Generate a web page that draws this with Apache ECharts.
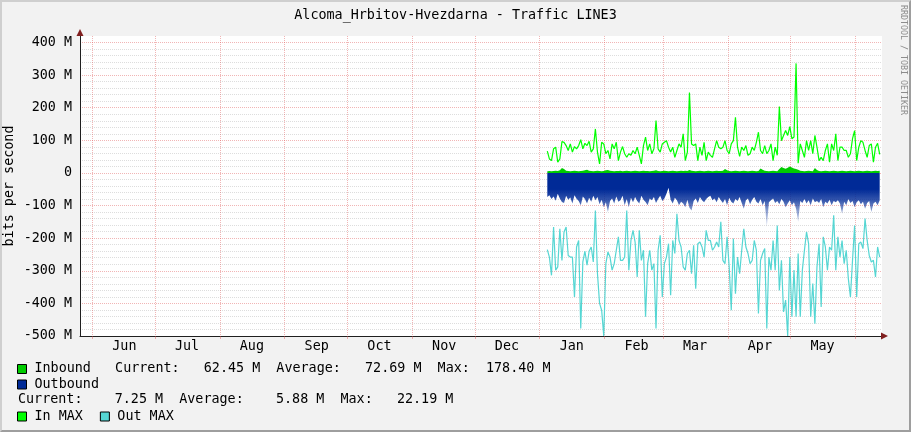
<!DOCTYPE html>
<html><head><meta charset="utf-8">
<script src="https://cdn.jsdelivr.net/npm/echarts@6/dist/echarts.min.js"></script>
<style>
html,body{margin:0;padding:0;background:#F2F2F2;}
#chart{position:absolute;left:0;top:0;width:911px;height:432px;}
#frame{position:absolute;left:0;top:0;width:911px;height:432px;box-sizing:border-box;border-top:2px solid #CFCFCF;border-left:2px solid #CFCFCF;border-right:2px solid #9E9E9E;border-bottom:2px solid #9E9E9E;pointer-events:none;}
</style></head><body>
<div id="chart"></div><div id="frame"></div>
<script>
const DAY = 86400000;
const startDate = Date.UTC(2017, 0, 4, 16);
const axisStart = Date.UTC(2016, 4, 26, 3);
const axisEnd = Date.UTC(2017, 5, 13, 18, 30);
const monthLabels = ['Jan','Feb','Mar','Apr','May','Jun','Jul','Aug','Sep','Oct','Nov','Dec'];

// values in M (bits per second / 1e6), one per day from startDate
const inbound = [5,6,5,6,7,6,8,15,12,7,
 6,5,6,7,6,5,6,7,8,10,
 7,6,5,6,7,6,5,6,8,9,
 7,6,5,6,6,7,5,6,7,6,
 5,6,7,6,5,6,7,6,6,5,
 6,7,8,6,5,6,7,6,5,6,
 7,6,5,6,7,6,7,6,9,7,
 6,5,6,7,6,5,6,7,6,5,
 6,7,6,6,7,12,8,6,5,6,
 7,6,5,6,7,6,5,6,7,6,
 5,6,14,10,7,6,5,6,7,6,
 5,12,18,15,13,16,20,17,14,12,
 10,7,6,5,6,7,6,5,15,9,
 6,5,6,7,6,5,6,7,6,5,
 6,7,6,5,6,7,6,5,6,7,
 6,5,6,7,6,5,6,7,6,7];

const outbound = [-74,-68,-80,-72,-85,-64,-78,-89,-92,-70,
 -82,-75,-94,-68,-79,-86,-99,-72,-80,-94,
 -76,-88,-70,-84,-74,-96,-82,-105,-90,-120,
 -86,-78,-94,-72,-88,-84,-70,-99,-80,-105,
 -76,-90,-74,-86,-94,-70,-82,-89,-99,-78,
 -84,-74,-92,-80,-70,-86,-78,-64,-45,-82,
 -94,-76,-84,-99,-88,-94,-105,-82,-107,-115,
 -86,-78,-92,-74,-84,-90,-80,-74,-70,-84,
 -78,-90,-74,-84,-92,-80,-99,-76,-88,-94,
 -80,-86,-74,-92,-110,-84,-78,-96,-82,-74,
 -88,-94,-80,-99,-86,-166,-90,-84,-78,-92,
 -86,-96,-80,-88,-105,-94,-84,-99,-90,-110,
 -150,-86,-92,-80,-94,-84,-99,-78,-90,-86,
 -92,-80,-105,-88,-94,-82,-99,-86,-90,-84,
 -94,-125,-88,-99,-80,-92,-86,-105,-90,-84,
 -96,-88,-110,-92,-86,-120,-94,-88,-99,-84];

const inMax = [67,43,38,74,79,33,43,96,94,84,
 69,89,64,81,74,84,102,74,91,84,
 97,64,74,135,64,28,94,89,59,69,
 43,89,74,94,38,64,81,59,48,59,
 54,69,59,79,54,28,84,110,69,89,
 59,74,161,74,64,89,94,99,79,64,
 79,48,69,89,79,120,38,64,247,89,
 84,89,38,79,54,94,38,64,54,48,
 74,99,79,74,79,99,69,59,89,99,
 171,79,51,79,69,84,54,59,79,69,
 94,125,69,59,84,59,69,89,38,79,
 54,204,99,115,130,115,142,105,110,336,
 30,89,69,48,99,69,99,59,115,79,
 38,48,38,69,89,33,89,69,120,38,
 79,79,69,69,48,59,105,130,38,79,
 99,94,69,48,84,89,33,79,91,57];

const outMax = [-235,-258,-314,-166,-298,-288,-171,-268,-181,-166,
 -253,-258,-258,-380,-227,-207,-477,-273,-240,-283,
 -240,-227,-273,-115,-309,-400,-421,-500,-278,-242,
 -258,-298,-278,-237,-196,-268,-268,-258,-115,-298,
 -207,-176,-212,-319,-176,-268,-237,-441,-278,-237,
 -298,-278,-477,-237,-191,-380,-278,-258,-217,-375,
 -207,-247,-125,-207,-227,-288,-298,-247,-237,-309,
 -222,-355,-217,-212,-227,-258,-176,-207,-207,-237,
 -227,-212,-227,-150,-268,-278,-196,-288,-421,-201,
 -370,-258,-309,-237,-171,-227,-247,-278,-268,-207,
 -237,-431,-268,-247,-232,-477,-258,-298,-207,-298,
 -161,-360,-268,-426,-390,-500,-258,-441,-298,-441,
 -247,-441,-298,-237,-181,-217,-441,-339,-462,-288,
 -217,-411,-196,-227,-298,-227,-237,-130,-298,-196,
 -258,-207,-278,-237,-324,-380,-268,-161,-380,-217,
 -212,-232,-140,-207,-253,-273,-268,-319,-227,-258];

const inboundStats = [62.45, 72.69, 178.40];   // current, average, max
const outboundStats = [7.25, 5.88, 22.19];

const FONT = 'DejaVu Sans Mono';
const FS = 13.4;
const gridColor = 'rgba(143,143,143,0.3)';
const majorColor = 'rgba(222,79,79,0.42)';

function fmtNum(v) { return v.toFixed(2).padStart(8, ' '); }
function statLine(s) {
  return 'Current:' + fmtNum(s[0]) + ' M  Average:' + fmtNum(s[1]) + ' M  Max:' + fmtNum(s[2]) + ' M';
}
function toSeries(arr) { return arr.map((v, i) => [startDate + i * DAY, v]); }
function monthFmt(v) {
  const d = new Date(v);
  if (d.getUTCDate() === 1 && d.getUTCHours() === 0 && d.getUTCMinutes() === 0 && v < axisEnd - 20 * DAY) {
    return monthLabels[d.getUTCMonth()];
  }
  return '';
}
function yFmt(v) {
  const r = Math.round(v);
  if (r % 100 !== 0) return '';
  return r === 0 ? '0' : r + ' M';
}

const legendBase = {
  left: 17, padding: 0, itemWidth: 9, itemHeight: 9, icon: 'rect', selectedMode: false,
  itemStyle: { borderColor: '#000', borderWidth: 1 },
  textStyle: { fontFamily: FONT, fontSize: FS, color: '#000', lineHeight: 16, padding: [0, 0, 0, 3] }
};

const chart = echarts.init(document.getElementById('chart'), null, { renderer: 'canvas', width: 911, height: 432 });
chart.setOption({
  animation: false,
  useUTC: true,
  backgroundColor: 'transparent',
  textStyle: { fontFamily: FONT },
  title: {
    text: 'Alcoma_Hrbitov-Hvezdarna - Traffic LINE3', left: 'center', top: 9, padding: 0,
    textStyle: { fontFamily: FONT, fontSize: FS, fontWeight: 'normal', color: '#000' }
  },
  grid: { left: 80, right: 29, top: 36, bottom: 96, show: true, backgroundColor: '#ffffff', borderWidth: 0, outerBoundsMode: 'none', containLabel: false },
  xAxis: [{
    type: 'time', min: axisStart, max: axisEnd, splitNumber: 13,
    axisLine: { show: true, onZero: false, lineStyle: { color: '#1F1F1F', width: 1 } },
    axisTick: { show: true, length: 3, lineStyle: { color: majorColor } },
    splitLine: { show: true, showMinLine: false, showMaxLine: false, lineStyle: { color: majorColor, type: [1, 1], width: 1 } },
    axisLabel: { formatter: monthFmt, margin: 4, color: '#000', fontFamily: FONT, fontSize: FS, align: 'left', padding: [0, 0, 0, 20], hideOverlap: false, showMinLabel: false, showMaxLabel: false }
  }, {
    type: 'time', min: axisStart, max: axisEnd, position: 'bottom',
    axisLine: { show: true, onZero: false, symbol: ['none', 'triangle'], symbolSize: [7, 7], symbolOffset: [0, 2.5], lineStyle: { color: '#801F1F', width: 0 } },
    axisTick: { show: false }, axisLabel: { show: false }, splitLine: { show: false }
  }],
  yAxis: [{
    type: 'value', min: -500, max: 420, interval: 20,
    name: 'bits per second', nameLocation: 'middle', nameRotate: 90, nameGap: 64, nameMoveOverlap: false,
    nameTextStyle: { fontFamily: FONT, fontSize: FS, color: '#000' },
    axisLine: { show: true, onZero: false, lineStyle: { color: '#1F1F1F', width: 1 } },
    axisTick: { show: false },
    axisLabel: { formatter: yFmt, margin: 8, color: '#000', fontFamily: FONT, fontSize: FS, showMaxLabel: false },
    splitLine: { show: true, showMinLine: true, showMaxLine: false, lineStyle: { color: [majorColor, gridColor, gridColor, gridColor, gridColor], type: [1, 1], width: 1 } }
  }, {
    type: 'value', min: -500, max: 420, position: 'left', offset: 0,
    axisLine: { show: true, onZero: false, symbol: ['none', 'triangle'], symbolSize: [7, 7], symbolOffset: [0, 3.5], lineStyle: { color: '#801F1F', width: 0 } },
    axisTick: { show: false }, axisLabel: { show: false }, splitLine: { show: false }
  }],
  legend: [
    Object.assign({}, legendBase, { data: ['Inbound'], top: 361, formatter: n => n + '   ' + statLine(inboundStats) }),
    Object.assign({}, legendBase, { data: ['Outbound'], top: 376.5 }),
    Object.assign({}, legendBase, { data: ['In MAX', 'Out MAX'], top: 408.5, itemGap: 17 })
  ],
  graphic: [
    { type: 'text', left: 18, top: 392, style: { text: statLine(outboundStats), font: FS + 'px "DejaVu Sans Mono"', fill: '#000', lineHeight: 16 } },
    { type: 'text', x: 903, y: 5, rotation: -Math.PI / 2, style: { text: 'RRDTOOL / TOBI OETIKER', font: '8.3px "DejaVu Sans Mono"', fill: '#8c8c8c', align: 'left', verticalAlign: 'middle' } }
  ],
  series: [
    { name: 'Inbound', type: 'line', data: toSeries(inbound), color: '#00CC00', symbol: 'none', showSymbol: false,
      lineStyle: { width: 0 }, areaStyle: { color: '#00CC00', opacity: 1 }, z: 2 },
    { name: 'Outbound', type: 'line', data: toSeries(outbound), color: '#002A97', symbol: 'none', showSymbol: false,
      lineStyle: { width: 0 },
      areaStyle: { opacity: 1, color: new echarts.graphic.LinearGradient(0, 0, 0, 1, [
        { offset: 0, color: '#002A97' }, { offset: 0.3, color: '#002A97' },
        { offset: 0.5, color: 'rgba(0,42,151,0.8)' }, { offset: 0.7, color: 'rgba(0,42,151,0.45)' },
        { offset: 1, color: 'rgba(0,42,151,0.15)' }]) }, z: 2 },
    { name: 'In MAX', type: 'line', data: toSeries(inMax), color: '#00FF00', symbol: 'none', showSymbol: false,
      lineStyle: { width: 1.2, color: '#00FF00' }, z: 3 },
    { name: 'Out MAX', type: 'line', data: toSeries(outMax), color: '#55D6D3', symbol: 'none', showSymbol: false,
      lineStyle: { width: 1.2, color: '#55D6D3' }, z: 3 }
  ]
});
</script>
</body></html>
